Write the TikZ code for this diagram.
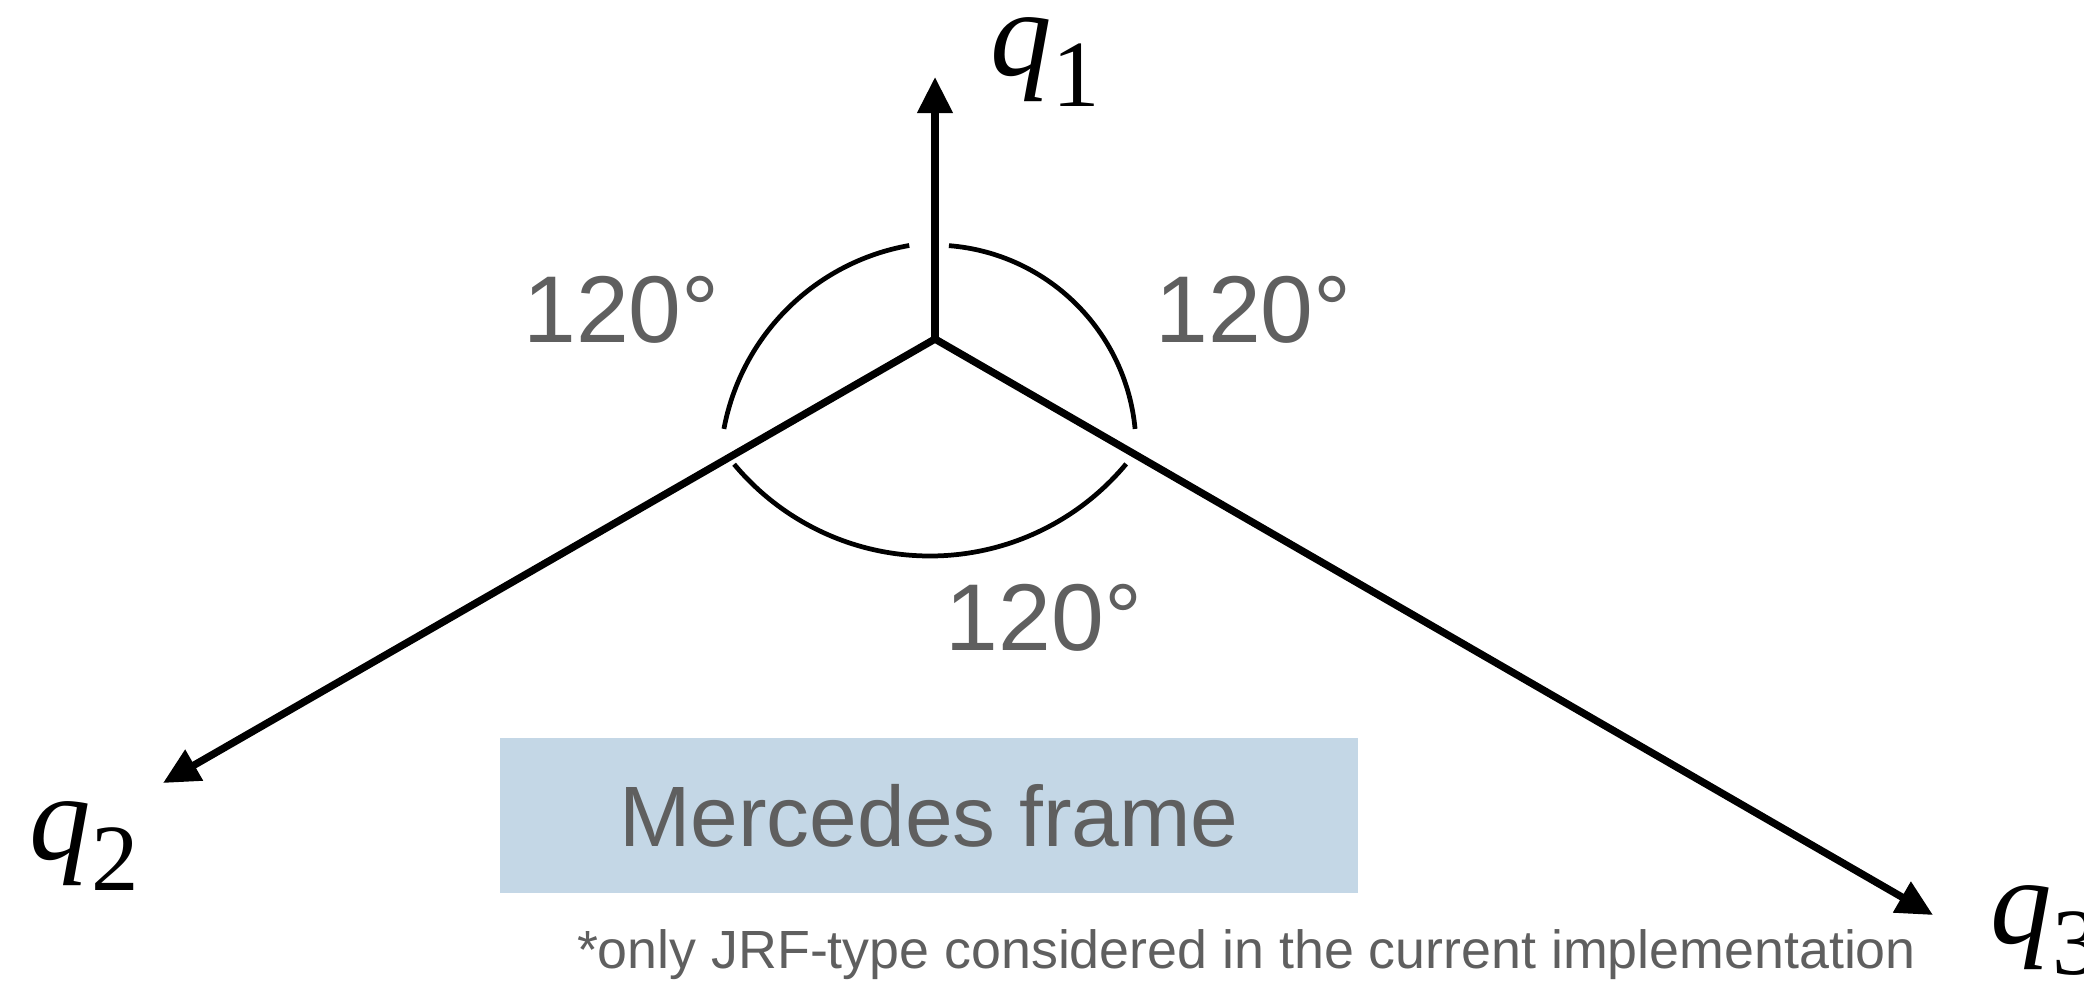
\documentclass[tikz,border=0pt]{standalone}
\usepackage{fontspec}
\setmainfont{Liberation Sans}
\newfontfamily\qserif{Liberation Serif}
\usepackage{tikz}
\usepackage{xcolor}
\usetikzlibrary{arrows.meta,calc}

\definecolor{labelgray}{HTML}{5F5F5F}
\definecolor{framebox}{HTML}{C4D7E6}
\newcommand{\qlab}[1]{{\itshape q}\raisebox{-9pt}{\fontsize{27}{30}\selectfont #1}}

\begin{document}
\begin{tikzpicture}[
		x=1cm,
		y=1cm,
		line cap=round,
		line join=miter,
		axis/.style={
			draw=black,
			line width=2.1pt,
			-{Triangle[length=3.6mm,width=3.4mm]}
		},
		anglearc/.style={
			draw=black,
			line width=1.35pt,
			line cap=butt
		},
		anglelabel/.style={
			text=labelgray,
			font=\fontsize{27}{32}\selectfont,
			anchor=base,
			inner sep=0pt
		},
		axislabel/.style={
			font=\qserif\fontsize{35}{42}\selectfont,
			anchor=base west,
			inner sep=0pt
		}
		]
		
		\useasboundingbox (0,0) rectangle (20.84,9.80);
		
		% origin and axis tips
		\coordinate (O)  at (9.35, 6.41);
		\coordinate (t1) at (9.35, 9.03);
		\coordinate (t2) at (1.63, 1.97);
		\coordinate (t3) at (19.33, 0.65);
		
		% arc centres
		\coordinate (cl) at (9.49, 5.09);
		\coordinate (cr) at (9.33, 5.32);
		\coordinate (cb) at (9.30, 6.79);
		
		% axes
		\draw[axis] (O) -- (t1);
		\draw[axis, {Triangle[length=3.6mm,width=3.4mm]}-{Triangle[length=3.6mm,width=3.4mm]}] (t2) -- (O) -- (t3);
		
		% angle arcs
		\draw[anglearc] ($(cl)+(100:2.29)$) arc[start angle=100, end angle=169.4, radius=2.29];
		\draw[anglearc] ($(cr)+(85.5:2.03)$) arc[start angle=85.5, end angle=5.4, radius=2.03];
		\draw[anglearc] ($(cb)+(219.8:2.55)$) arc[start angle=219.8, end angle=320.3, radius=2.55];
		
		% angle labels
		\node[anglelabel] (al) at (6.215, 6.38) {120°};
		\node[anglelabel] (ar) at (12.535, 6.38) {120°};
		\node[anglelabel] (ab) at (10.44, 3.30) {120°};
		
		% axis labels
		\node[axislabel] (q1) at (9.90, 9.05) {\qlab{1}};
		\node[axislabel] (q2) at (0.29, 1.21) {\qlab{2}};
		\node[axislabel] (q3) at (19.90, 0.37) {\qlab{3}};
		
		% frame box
		\node[fill=framebox, text=labelgray, minimum width=8.58cm, minimum height=1.55cm,
			font=\fontsize{24.4}{29}\selectfont] (frame) at (9.29, 1.645) {Mercedes frame};
		
		% footnote
		\node[text=labelgray, anchor=base, inner sep=0pt, font=\fontsize{15.3}{18}\selectfont]
			(note) at (12.465, 0.12) {*only JRF-type considered in the current implementation};
\end{tikzpicture}
\end{document}
